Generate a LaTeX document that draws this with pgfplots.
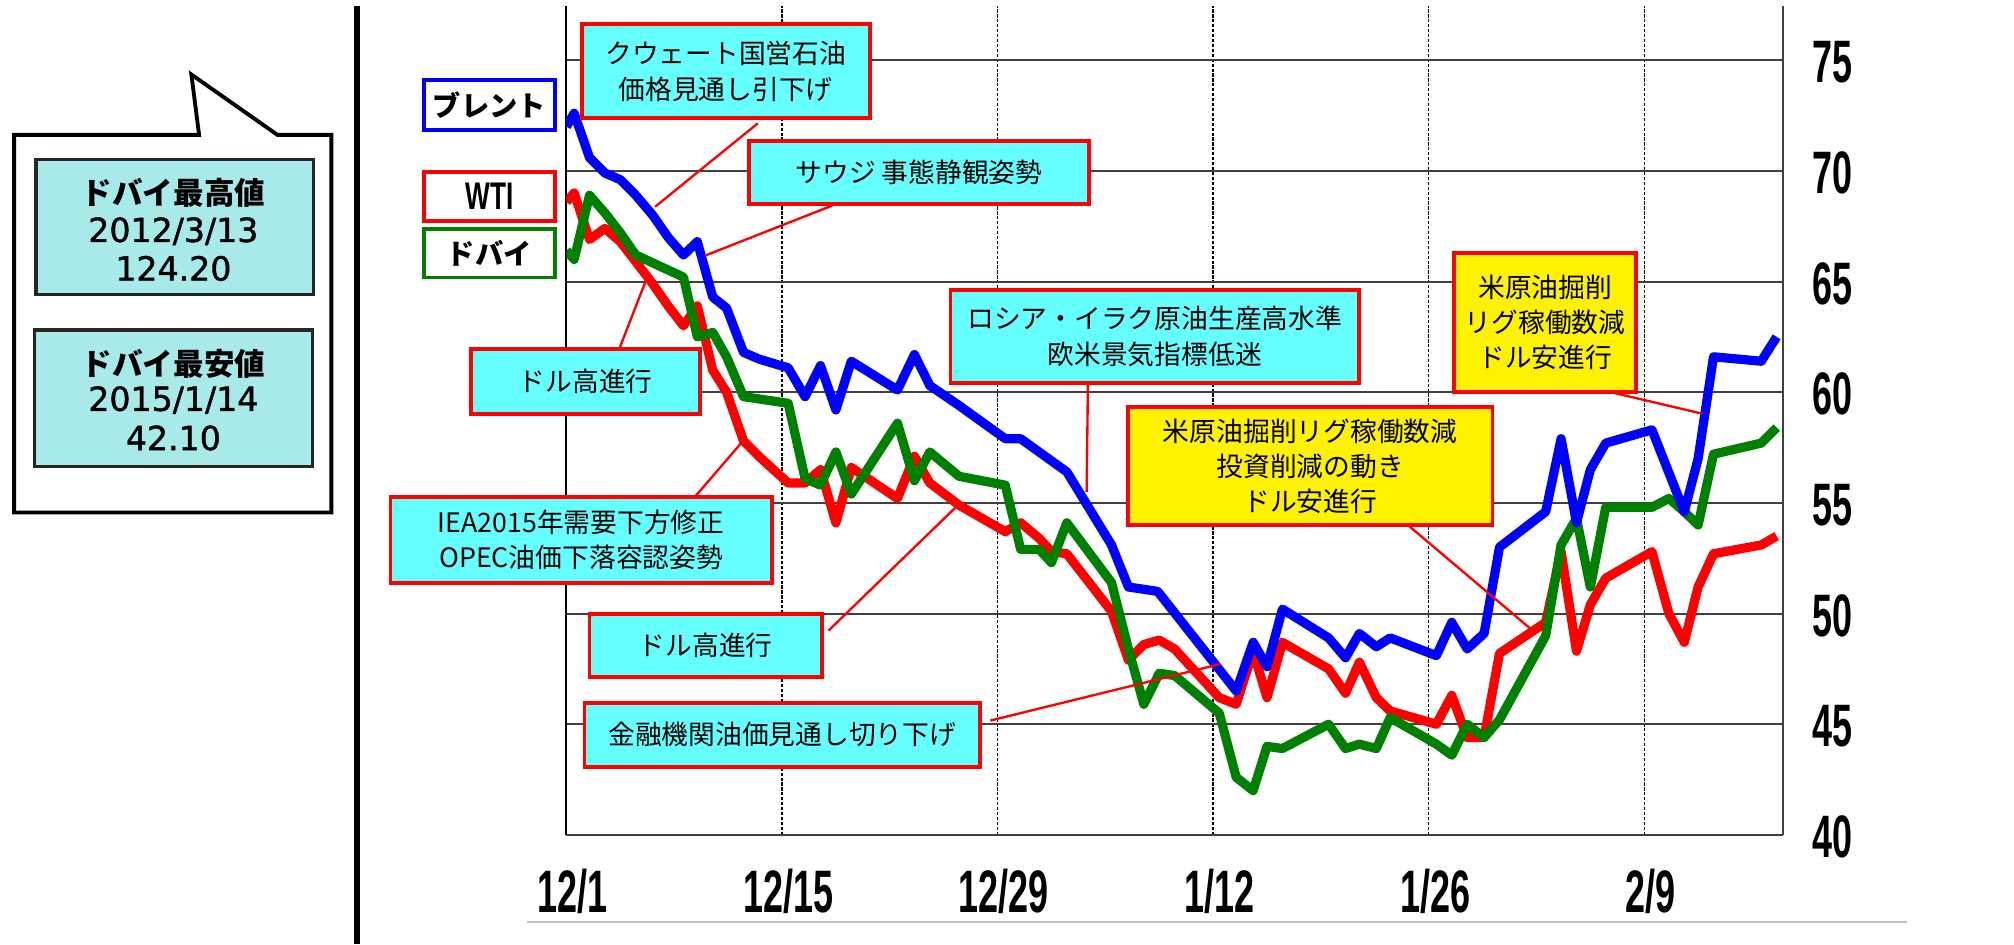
\documentclass[border=0pt]{standalone}
\usepackage{fontspec}
\usepackage{pgfplots}
\pgfplotsset{compat=1.18}
\setmainfont{Liberation Sans}
\newfontfamily\jp{Noto Sans CJK JP}
\newfontfamily\cond{Liberation Sans}[FakeStretch=0.6, UprightFont={* Bold}]
\newfontfamily\condw{Liberation Sans}[FakeStretch=0.68, UprightFont={* Bold}]
\newfontfamily\djv{DejaVu Sans}[FakeBold=1.2]
\definecolor{cyanbox}{HTML}{66FFFF}
\definecolor{tealbox}{HTML}{A8EAEA}
\definecolor{dgreen}{HTML}{008000}
\definecolor{gridgray}{HTML}{404040}
\tikzset{annbox/.style={draw=red, line width=1.8pt, fill=cyanbox},
  ylwbox/.style={draw=red, line width=1.8pt, fill=yellow},
  anntext/.style={align=center, inner sep=0pt, font=\jp\fontsize{12.5}{16.5}\selectfont},
  lead/.style={red, line width=1.1pt}}
\begin{document}
\begin{tikzpicture}
\path[use as bounding box] (0,0) rectangle (940.8pt,-441pt);
\begin{scope}[x=0.6pt,y=-0.6pt]
% callout on the left
\draw[black, line width=1.8pt, fill=white, line join=miter] (11,105) -- (155,105) -- (149,58) -- (216,105) -- (258,105) -- (258,399) -- (11,399) -- cycle;
\draw[black!85, line width=1.5pt, fill=tealbox] (28,124) rectangle (244,229);
\draw[black!85, line width=1.5pt, fill=tealbox] (27,257) rectangle (243,363);
\node[inner sep=0pt, font=\jp\bfseries\fontsize{14.3}{16}\selectfont] at (135,150) {ドバイ最高値};
\node[inner sep=0pt, font=\djv\fontsize{15.5}{18}\selectfont] at (135,180) {2012/3/13};
\node[inner sep=0pt, font=\djv\fontsize{15.5}{18}\selectfont] at (135,209) {124.20};
\node[inner sep=0pt, font=\jp\bfseries\fontsize{14.3}{16}\selectfont] at (135,283) {ドバイ最安値};
\node[inner sep=0pt, font=\djv\fontsize{15.5}{18}\selectfont] at (135,311.5) {2015/1/14};
\node[inner sep=0pt, font=\djv\fontsize{15.5}{18}\selectfont] at (135,341) {42.10};
% separator
\draw[black, line width=2.5pt] (278,5) -- (278,735);
% bottom light line
\draw[black!25, line width=1pt] (410,718) -- (1485,718);
\end{scope}

\begin{axis}[
  at={(264.6pt,-390pt)}, anchor=south west,
  scale only axis, width=568.2pt, height=387pt,
  xmin=0, xmax=79, ymin=40, ymax=77.43,
  axis x line*=bottom, axis y line*=right,
  axis line style={-, draw=gridgray, line width=1pt},
  ytick={40,45,50,55,60,65,70,75},
  yticklabels={40,45,50,55,60,65,70,75},
  ymajorgrids,
  major y grid style={gridgray, line width=0.9pt},
  xtick={14,28,42,56,70},
  xticklabels={12/15,12/29,1/12,1/26,2/9},
  xmajorgrids,
  major x grid style={black, line width=0.6pt, dash pattern=on 1.5pt off 0.8pt},
  extra x ticks={0}, extra x tick labels={12/1},
  extra x tick style={grid=major, major x grid style={black, line width=0.9pt, solid}},
  major tick length=0pt,
  tick label style={font=\cond\fontsize{28}{28}\selectfont},
  yticklabel style={anchor=center, xshift=23.4pt, yshift=-1pt},
  xticklabel style={anchor=center, yshift=-26.4pt, xshift=3pt},
  every axis plot/.append style={line width=4.3pt, line join=round, no markers},
]
% WTI
\addplot[red] coordinates {
(0,68.6) (0.5,69.0) (1.5,66.9) (2.5,67.4) (3.5,66.8) (4.5,65.9) (5.6,64.9) (6.6,63.9)
(7.6,63.0) (8.5,63.9) (9.5,61.0) (10.4,60.0) (11.5,57.8) (12.5,57.1) (14.4,55.9) (15.5,55.9)
(16.5,56.5) (17.5,54.1) (18.5,56.6) (21.5,55.2) (22.6,57.1) (23.6,55.9) (25.5,54.9) (28.5,53.7)
(29.5,54.1) (30.7,53.4) (31.5,52.8) (32.5,52.7) (35.4,50.1) (36.5,47.9) (37.5,48.6) (38.5,48.8)
(39.5,48.4) (42.4,46.2) (43.5,45.9) (44.6,48.3) (45.5,46.2) (46.5,48.7) (49.5,47.5) (50.6,46.4)
(51.5,47.8) (52.6,46.2) (53.5,45.6) (56.5,45.0) (57.5,46.3) (58.5,44.4) (59.6,44.4) (60.6,48.2)
(63.6,49.6) (64.6,52.8) (65.6,48.3) (66.5,50.4) (67.5,51.6) (70.5,52.8) (71.6,50.0) (72.6,48.7)
(73.5,51.2) (74.5,52.7) (77.6,53.1) (78.6,53.5)
};
% Dubai
\addplot[dgreen] coordinates {
(0,66.4) (0.5,66.0) (1.5,68.9) (2.5,68.1) (3.5,67.2) (4.5,66.2) (7.6,65.2) (8.5,62.5)
(9.5,62.7) (10.4,61.6) (11.5,59.8) (14.4,59.5) (15.5,56.1) (16.5,55.8) (17.5,57.3) (18.5,55.4)
(21.5,58.6) (22.6,56.0) (23.6,57.3) (25.5,56.2) (28.5,55.8) (29.5,52.9) (30.7,52.9) (31.5,52.3)
(32.5,54.1) (35.4,51.4) (36.5,48.4) (37.5,45.9) (38.5,47.3) (39.5,47.2) (42.4,45.5) (43.5,42.6)
(44.6,42.0) (45.5,44.0) (46.5,43.9) (49.5,45.0) (50.6,43.9) (51.5,44.1) (52.6,43.9) (53.5,45.3)
(56.5,44.1) (57.5,43.6) (58.5,45.0) (59.6,44.4) (60.6,45.2) (63.6,49.0) (64.6,53.1) (65.6,54.3)
(66.5,51.2) (67.5,54.8) (70.5,54.8) (71.6,55.2) (72.6,54.6) (73.5,54.0) (74.5,57.2) (77.6,57.7)
(78.6,58.4)
};
% Brent
\addplot[blue] coordinates {
(0,72.0) (0.5,72.6) (1.5,70.6) (2.5,69.9) (3.5,69.6) (4.5,68.9) (5.6,68.0) (6.6,67.0)
(7.6,66.2) (8.5,66.8) (9.5,64.3) (10.4,63.8) (11.5,61.8) (12.5,61.5) (14.4,61.1) (15.5,59.8)
(16.5,61.2) (17.5,59.2) (18.5,61.4) (21.5,60.1) (22.6,61.7) (23.6,60.3) (25.5,59.4) (28.5,57.9)
(29.5,57.9) (32.5,56.4) (35.4,53.1) (36.5,51.2) (38.4,51.0) (43.5,46.5) (44.6,48.7) (45.5,47.6)
(46.5,50.2) (49.5,48.9) (50.6,48.0) (51.5,49.1) (52.6,48.5) (53.5,48.9) (56.5,48.1) (57.5,49.6)
(58.5,48.4) (59.6,49.1) (60.6,53.0) (63.6,54.6) (64.6,57.9) (65.6,54.1) (66.5,56.5) (67.5,57.7)
(70.5,58.3) (72.6,54.6) (73.5,57.0) (74.5,61.6) (77.6,61.4) (78.6,62.5)
};
\end{axis}

\begin{scope}[x=0.6pt,y=-0.6pt]
% legend boxes
\draw[blue, line width=1.8pt, fill=white] (330,62) rectangle (432,101);
\node[inner sep=0pt, font=\jp\bfseries\fontsize{13.2}{14}\selectfont] at (381,81.5) {ブレント};
\draw[red, line width=1.8pt, fill=white] (330,134) rectangle (432,172);
\node[inner sep=0pt, font=\condw\fontsize{18}{18}\selectfont] at (381,153) {WTI};
\draw[dgreen, line width=1.8pt, fill=white] (330,178) rectangle (432,216);
\node[inner sep=0pt, font=\jp\bfseries\fontsize{13.2}{14}\selectfont] at (381,197) {ドバイ};

% annotations
\draw[lead] (590,96) -- (510,161);
\draw[annbox] (453,19) rectangle (677,92);
\node[anntext] at (565,55.5) {クウェート国営石油\\価格見通し引下げ};

\draw[lead] (648,160) -- (549,199);
\draw[annbox] (583,110) rectangle (848,159);
\node[anntext] at (715.5,134.5) {サウジ 事態静観姿勢};

\draw[lead] (847,298) -- (846,383);
\draw[annbox] (740,226) rectangle (1058,298);
\node[anntext] at (899,262) {ロシア・イラク原油生産高水準\\欧米景気指標低迷};

\draw[lead] (540,388) -- (577,345);
\draw[annbox] (304,387) rectangle (601,454);
\node[anntext] at (452.5,420.5) {IEA2015年需要下方修正\\OPEC油価下落容認姿勢};

\draw[lead] (482,272) -- (503,218);
\draw[annbox] (367,272) rectangle (545,322);
\node[anntext] at (456,297) {ドル高進行};

\draw[lead] (645,491) -- (744,395);
\draw[annbox] (459,478) rectangle (640,527);
\node[anntext] at (549.5,502.5) {ドル高進行};

\draw[lead] (771,561) -- (950,517);
\draw[annbox] (455,547) rectangle (763,597);
\node[anntext] at (609,572) {金融機関油価見通し切り下げ};

\draw[lead] (1094,407) -- (1191,489);
\draw[ylwbox] (878,317) rectangle (1162,409);
\node[anntext] at (1020,363) {米原油掘削リグ稼働数減\\投資削減の動き\\ドル安進行};

\draw[lead] (1240,302) -- (1325,322);
\draw[ylwbox] (1132,197) rectangle (1274,305);
\node[anntext] at (1203,251) {米原油掘削\\リグ稼働数減\\ドル安進行};
\end{scope}
\end{tikzpicture}
\end{document}
